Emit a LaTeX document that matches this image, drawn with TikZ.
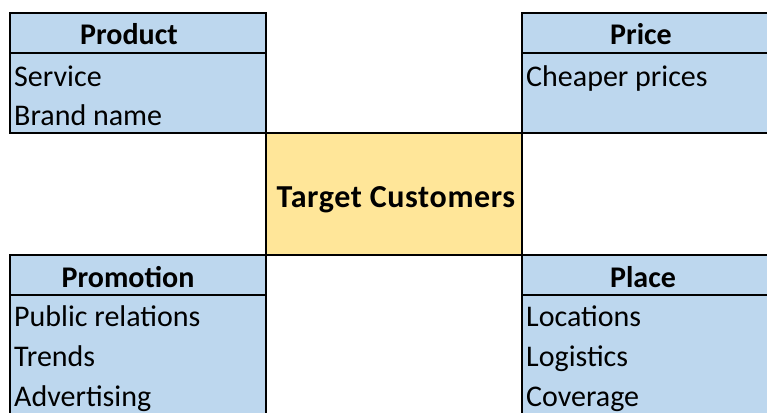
\documentclass[tikz,border=0pt]{standalone}
\usepackage{fontspec}
\setmainfont{Carlito}
\definecolor{cellblue}{HTML}{BDD7EE}
\definecolor{cellyellow}{HTML}{FFE699}
\tikzset{
  cellbox/.style={line width=1.8pt, draw=black},
  cellline/.style={line width=1.8pt, draw=black},
  headtxt/.style={anchor=base, inner sep=0pt, font=\fontsize{30}{36}\selectfont\bfseries},
  itemtxt/.style={anchor=base west, inner sep=0pt, font=\fontsize{30}{36}\selectfont},
}
\begin{document}
\begin{tikzpicture}[x=1pt,y=-1pt]
\useasboundingbox (0,0) rectangle (767,412);
\clip (0,0) rectangle (767,412);
\fill[white] (0,0) rectangle (767,412);
% Product
\path[fill=cellblue, cellbox] (10,13) rectangle (266,133);
\draw[cellline] (10,53) -- (266,53);
% Price
\path[fill=cellblue, cellbox] (522,13) rectangle (775,133);
\draw[cellline] (522,53) -- (775,53);
% Promotion
\path[fill=cellblue, cellbox] (10,255) rectangle (266,420);
\draw[cellline] (10,295) -- (266,295);
% Place
\path[fill=cellblue, cellbox] (522,255) rectangle (775,420);
\draw[cellline] (522,295) -- (775,295);
% Center
\path[fill=cellyellow, cellbox] (266,133) rectangle (522,255);

\node[headtxt] (product) at (129,45) {Product};
\node[itemtxt] (service) at (14,86) {Service};
\node[itemtxt] (brand) at (14,125) {Brand name};

\node[headtxt] (price) at (641,45) {Price};
\node[itemtxt] (cheaper) at (526,86) {Cheaper prices};

\node[headtxt, font=\fontsize{32}{38}\selectfont\bfseries\addfontfeature{LetterSpace=2}] (target) at (396,207) {Target Customers};

\node[headtxt] (promotion) at (128,287) {Promotion};
\node[itemtxt] (pr) at (14,326) {Public relations};
\node[itemtxt] (trends) at (14,366) {Trends};
\node[itemtxt] (adv) at (14,406) {Advertising};

\node[headtxt] (place) at (643,287) {Place};
\node[itemtxt] (loc) at (526,326) {Locations};
\node[itemtxt] (log) at (526,366) {Logistics};
\node[itemtxt] (cov) at (526,406) {Coverage};
\end{tikzpicture}
\end{document}
